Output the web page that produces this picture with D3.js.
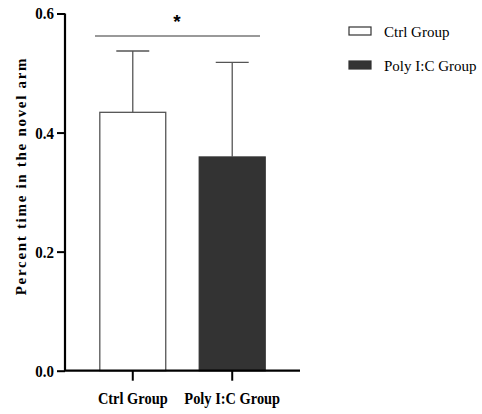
<!DOCTYPE html>
<html><head><meta charset="utf-8">
<script src="https://cdn.jsdelivr.net/npm/d3@7"></script>
<style>body{margin:0;background:#fff}svg{display:block}</style>
</head><body>
<script>
const categories = ["Ctrl Group", "Poly I:C Group"];
const means = [0.434, 0.359];
const errors = [0.103, 0.159];
const fills = ["#ffffff", "#333333"];
const yTicks = [0.0, 0.2, 0.4, 0.6];
const yTitle = "Percent time in the novel arm";
const sigLabel = "*";

const W = 482, H = 414;
const svg = d3.select("body").append("svg").attr("width", W).attr("height", H);

const y = d3.scaleLinear().domain([0, 0.6]).range([370.7, 13.5]);
const x = d3.scaleBand().domain(categories).range([65, 300]).paddingInner(0.337).paddingOuter(0.35);

// bars
svg.selectAll("rect.bar").data(categories).join("rect")
  .attr("class", "bar")
  .attr("x", d => x(d))
  .attr("width", x.bandwidth())
  .attr("y", (d, i) => y(means[i]))
  .attr("height", (d, i) => y(0) - y(means[i]))
  .attr("fill", (d, i) => fills[i])
  .attr("stroke", (d, i) => i === 0 ? "#555" : "#333")
  .attr("stroke-width", 1.3);

// error bars
const cap = x.bandwidth() / 2;
categories.forEach((c, i) => {
  const cx = x(c) + x.bandwidth() / 2;
  const g = svg.append("g").attr("stroke", "#555").attr("stroke-width", 1.3);
  g.append("line").attr("x1", cx).attr("x2", cx).attr("y1", y(means[i])).attr("y2", y(means[i] + errors[i]));
  g.append("line").attr("x1", cx - cap / 2).attr("x2", cx + cap / 2).attr("y1", y(means[i] + errors[i])).attr("y2", y(means[i] + errors[i]));
});

// y axis
const yAxis = svg.append("g").attr("transform", "translate(65,0)")
  .call(d3.axisLeft(y).tickValues(yTicks).tickFormat(d3.format(".1f")).tickSize(8).tickPadding(3));
yAxis.select(".domain").attr("stroke", "#000").attr("stroke-width", 2.2).attr("d", `M0,${y(0.6)}V${y(0)}`);
yAxis.selectAll(".tick line").attr("stroke", "#000").attr("stroke-width", 2);
yAxis.selectAll(".tick text").attr("font-family", "Liberation Serif").attr("font-weight", "bold")
  .attr("font-size", 17).attr("fill", "#000")
  .attr("transform", "scale(0.88,1)").attr("x", -11 / 0.88);

// x axis
const xAxis = svg.append("g").attr("transform", `translate(0,${y(0)})`)
  .call(d3.axisBottom(x).tickSize(10).tickPadding(12));
xAxis.select(".domain").attr("stroke", "#000").attr("stroke-width", 2.2).attr("d", "M64,0H300");
xAxis.selectAll(".tick line").attr("stroke", "#000").attr("stroke-width", 2);
xAxis.selectAll(".tick text").attr("font-family", "Liberation Serif").attr("font-weight", "bold")
  .attr("font-size", 16).attr("fill", "#000").attr("transform", "scale(0.9,1)");

// y title
svg.append("text")
  .attr("transform", `translate(26,176) rotate(-90)`)
  .attr("text-anchor", "middle")
  .attr("font-family", "Liberation Serif").attr("font-weight", "bold")
  .attr("font-size", 15).attr("letter-spacing", 1.7).attr("fill", "#000")
  .text(yTitle);

// significance
svg.append("line").attr("x1", 95).attr("x2", 260).attr("y1", 36).attr("y2", 36)
  .attr("stroke", "#777").attr("stroke-width", 1.3);
svg.append("text").attr("x", 177).attr("y", 28).attr("text-anchor", "middle")
  .attr("font-family", "Liberation Sans").attr("font-weight", "bold").attr("font-size", 19)
  .attr("fill", "#000").text(sigLabel);

// legend
const leg = svg.append("g");
categories.forEach((c, i) => {
  const yy = 27 + i * 34;
  leg.append("rect").attr("x", 349).attr("y", yy).attr("width", 22).attr("height", 8)
    .attr("fill", fills[i]).attr("stroke", "#333").attr("stroke-width", 1.2);
  leg.append("text").attr("x", 384).attr("y", yy + 10).attr("font-family", "Liberation Serif")
    .attr("font-size", 15).attr("fill", "#000").text(c);
});
</script>
</body></html>
